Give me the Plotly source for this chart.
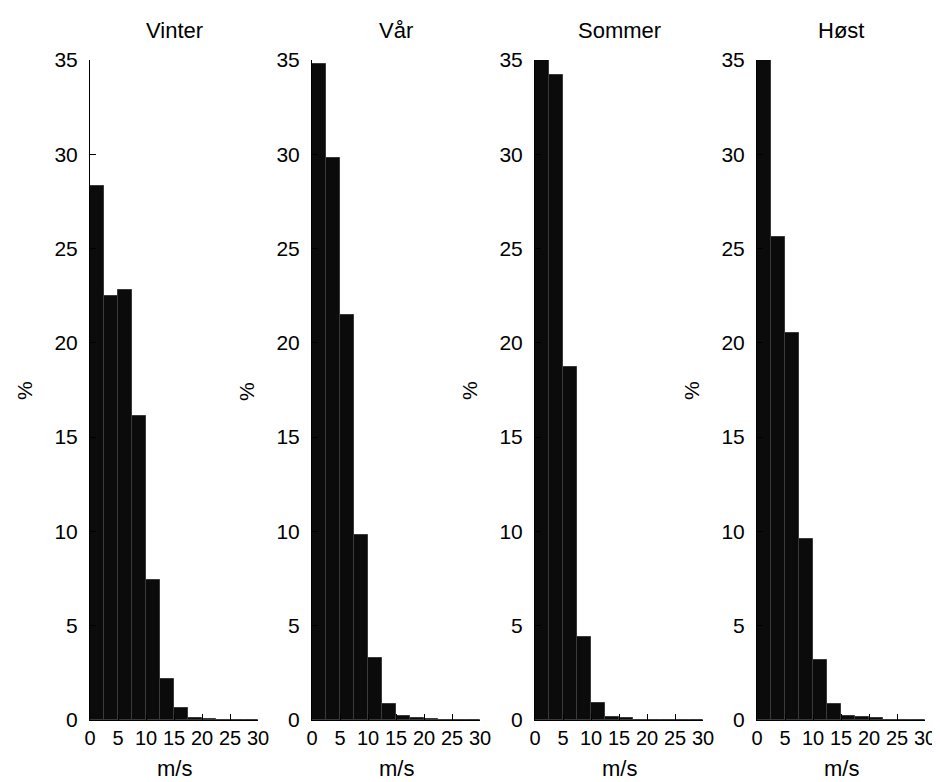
import plotly.graph_objects as go

# ---- data ----
seasons = ["Vinter", "Vår", "Sommer", "Høst"]
bin_edges = [0, 2.5, 5, 7.5, 10, 12.5, 15, 17.5, 20, 22.5, 25, 27.5, 30]
vinter = [28.3, 22.5, 22.8, 16.1, 7.4, 2.15, 0.62, 0.12, 0.07, 0.02, 0, 0]
vaar = [34.8, 29.8, 21.5, 9.8, 3.3, 0.83, 0.21, 0.09, 0.03, 0, 0, 0]
sommer = [35.0, 34.2, 18.7, 4.4, 0.92, 0.18, 0.09, 0.02, 0, 0, 0, 0]
hoest = [35.0, 25.6, 20.5, 9.6, 3.2, 0.83, 0.21, 0.14, 0.09, 0.02, 0, 0]
series = [vinter, vaar, sommer, hoest]
x_ticks = [0, 5, 10, 15, 20, 25, 30]
y_ticks = [0, 5, 10, 15, 20, 25, 30, 35]
x_label = "m/s"
y_label = "%"

W, H = 940, 782
lefts_px = [82, 304, 527, 749]
width_px = 168
top_px, bottom_px = 52, 712

FONT = "Liberation Sans"
fs = 20

centers = [(a + b) / 2 for a, b in zip(bin_edges[:-1], bin_edges[1:])]
widths = [b - a for a, b in zip(bin_edges[:-1], bin_edges[1:])]

fig = go.Figure()
layout = dict(
    width=W, height=H,
    margin=dict(l=0, r=0, t=0, b=0, autoexpand=False),
    paper_bgcolor="white", plot_bgcolor="white",
    showlegend=False,
    font=dict(family=FONT, size=fs, color="black"),
    bargap=0,
)
annotations = []
ydom = [(H - bottom_px) / H, (H - top_px) / H]
for i, (name, vals) in enumerate(zip(seasons, series)):
    n = "" if i == 0 else str(i + 1)
    xd = [lefts_px[i] / W, (lefts_px[i] + width_px) / W]
    fig.add_trace(go.Bar(
        x=centers, y=vals, width=widths,
        marker=dict(color="#0b0b0b", line=dict(color="#3a3a3a", width=1)),
        xaxis="x" + n, yaxis="y" + n, hoverinfo="skip",
    ))
    layout["xaxis" + n] = dict(
        domain=xd, anchor="y" + n, range=[0, 30],
        tickmode="array", tickvals=x_ticks, ticktext=[str(t) for t in x_ticks],
        ticks="inside", ticklen=6, tickcolor="black", tickwidth=1,
        tickangle=0, automargin=False,
        showline=True, linecolor="black", linewidth=1, mirror=False,
        showgrid=False, zeroline=False, fixedrange=True,
        tickfont=dict(family=FONT, size=fs, color="black"),
    )
    layout["yaxis" + n] = dict(
        domain=ydom, anchor="x" + n, range=[0, 35],
        tickmode="array", tickvals=y_ticks, ticktext=[str(t) for t in y_ticks],
        ticks="inside", ticklen=6, tickcolor="black", tickwidth=1,
        automargin=False, ticklabelstandoff=7,
        showline=True, linecolor="black", linewidth=1, mirror=False,
        showgrid=False, zeroline=False, fixedrange=True,
        tickfont=dict(family=FONT, size=fs + 1, color="black"),
    )
    cx = (xd[0] + xd[1]) / 2
    annotations.append(dict(text=name, x=cx, y=(H - 22) / H, xref="paper", yref="paper",
                            showarrow=False, xanchor="center", yanchor="middle",
                            font=dict(family=FONT, size=fs + 2, color="black")))
    annotations.append(dict(text=x_label, x=cx, y=(H - 760) / H, xref="paper", yref="paper",
                            showarrow=False, xanchor="center", yanchor="middle", borderpad=0,
                            font=dict(family=FONT, size=fs + 2, color="black")))
    annotations.append(dict(text=y_label, x=(lefts_px[i] - 66) / W, y=(H - 383) / H,
                            xref="paper", yref="paper", textangle=-90,
                            showarrow=False, xanchor="center", yanchor="middle",
                            font=dict(family=FONT, size=fs + 1, color="black")))
layout["annotations"] = annotations
fig.update_layout(**layout)
fig.write_html("out.html")
